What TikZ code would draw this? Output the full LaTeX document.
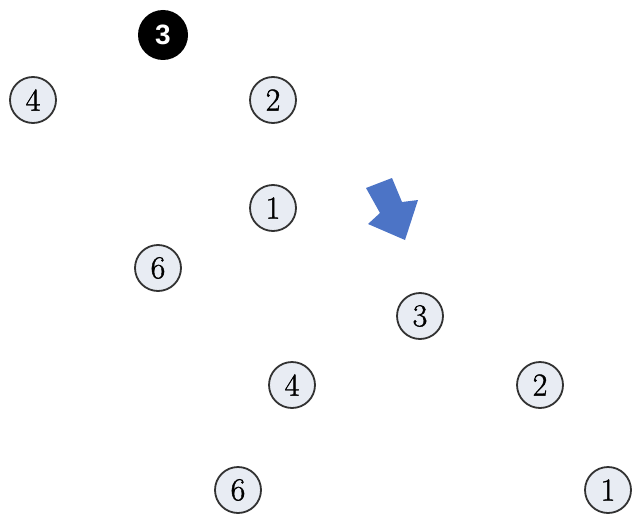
\documentclass[tikz,border=0pt]{standalone}
\usepackage{fontspec}
\newfontfamily\boldsans{Liberation Sans}
\newfontfamily\digitfont[FakeBold=1.2]{Latin Modern Roman}
\definecolor{circfill}{RGB}{232,236,243}
\definecolor{circline}{RGB}{50,50,50}
\definecolor{arrowblue}{RGB}{76,116,198}
\tikzset{
  numcirc/.style={circle, draw=circline, line width=1.8pt, fill=circfill, minimum size=46pt, inner sep=0pt, font=\digitfont\fontsize{32}{32}\selectfont},
  blackcirc/.style={circle, fill=black, minimum size=50pt, inner sep=0pt, text=white, font=\boldsans\bfseries\fontsize{28}{28}\selectfont}
}
\begin{document}
\begin{tikzpicture}[x=1pt,y=-1pt]
\useasboundingbox (0,0) rectangle (634,519);
\node[blackcirc] (b3) at (163,35) {3};
\node[numcirc] (a4) at (33,100) {4};
\node[numcirc] (a2) at (273,100) {2};
\node[numcirc] (a1) at (273,208) {1};
\node[numcirc] (a6) at (158,268) {6};
\node[numcirc] (c3) at (420,316) {3};
\node[numcirc] (c4) at (292,385) {4};
\node[numcirc] (c2) at (540,385) {2};
\node[numcirc] (c6) at (238,490) {6};
\node[numcirc] (c1) at (608,490) {1};
\fill[arrowblue] (366,188) -- (392,178) -- (402,202) -- (418,200) -- (405,240) -- (368,224) -- (380,213) -- cycle;
\end{tikzpicture}
\end{document}
